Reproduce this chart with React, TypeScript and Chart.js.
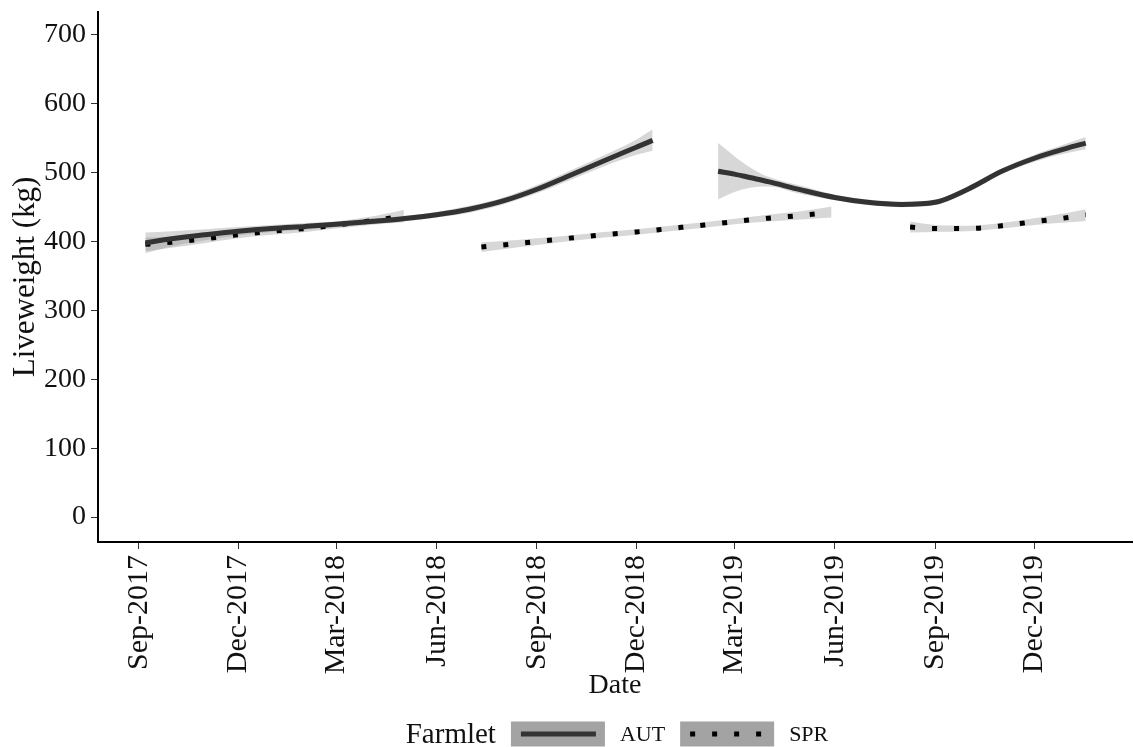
import React, { useEffect, useRef } from 'react';
import { Chart, registerables } from 'chart.js';

Chart.register(...registerables);

const FONT = '"Liberation Serif", "Times New Roman", serif';
const TEXT = '#111111';

// Tick positions (first of month) and labels
const TICK_DATES = ['2017-09-01', '2017-12-01', '2018-03-01', '2018-06-01', '2018-09-01', '2018-12-01', '2019-03-01', '2019-06-01', '2019-09-01', '2019-12-01'];
const TICK_LABELS = ['Sep-2017', 'Dec-2017', 'Mar-2018', 'Jun-2018', 'Sep-2018', 'Dec-2018', 'Mar-2019', 'Jun-2019', 'Sep-2019', 'Dec-2019'];
const Y_TICKS = [0, 100, 200, 300, 400, 500, 600, 700];

// AUT farmlet, first period
const AUT1_DATES = ['2017-09-07', '2017-10-01', '2017-11-01', '2017-12-01', '2018-01-01', '2018-02-01', '2018-03-01', '2018-04-01', '2018-05-01', '2018-06-01', '2018-07-01', '2018-08-01', '2018-09-01', '2018-10-01', '2018-11-01', '2018-12-01', '2018-12-16'];
const AUT1_FIT = [398, 404, 410, 415, 419, 422, 425, 429, 433, 439, 447, 459, 476, 496, 517, 537, 547];
const AUT1_LOW = [383, 393, 402, 409, 414, 417, 421, 425, 429, 435, 442, 454, 470, 489, 509, 526, 532];
const AUT1_HIGH = [413, 415, 418, 421, 424, 427, 429, 433, 437, 443, 452, 464, 482, 503, 525, 548, 563];

// AUT farmlet, second period
const AUT2_DATES = ['2019-02-14', '2019-03-01', '2019-03-15', '2019-04-01', '2019-05-01', '2019-06-01', '2019-07-01', '2019-08-01', '2019-09-01', '2019-10-01', '2019-11-01', '2019-12-01', '2020-01-01', '2020-01-17'];
const AUT2_FIT = [502, 498, 493, 487, 475, 464, 457, 454, 457, 476, 502, 521, 536, 543];
const AUT2_LOW = [461, 472, 478, 480, 469, 460, 453, 450, 453, 472, 498, 516, 529, 534];
const AUT2_HIGH = [543, 524, 508, 494, 481, 468, 461, 458, 461, 480, 506, 526, 543, 552];

// SPR farmlet, three periods
const SPR1_DATES = ['2017-09-07', '2017-10-01', '2017-11-01', '2017-12-01', '2018-01-01', '2018-02-01', '2018-03-01', '2018-04-01', '2018-05-02'];
const SPR1_FIT = [396, 399, 404, 410, 415, 419, 424, 430, 437];
const SPR1_LOW = [386, 391, 398, 405, 410, 414, 419, 424, 428];
const SPR1_HIGH = [406, 407, 410, 415, 420, 424, 429, 436, 446];

const SPR2_DATES = ['2018-07-12', '2018-08-01', '2018-09-01', '2018-10-01', '2018-11-01', '2018-12-01', '2019-01-01', '2019-02-01', '2019-03-01', '2019-04-01', '2019-05-01', '2019-05-29'];
const SPR2_FIT = [392, 395, 400, 405, 410, 414, 419, 424, 429, 434, 438, 443];
const SPR2_LOW = [385, 389, 395, 401, 406, 410, 415, 420, 425, 429, 432, 435];
const SPR2_HIGH = [399, 401, 405, 409, 414, 418, 423, 428, 433, 439, 444, 451];

const SPR3_DATES = ['2019-08-09', '2019-09-01', '2019-10-01', '2019-11-01', '2019-12-01', '2020-01-01', '2020-01-17'];
const SPR3_FIT = [421, 419, 419, 423, 429, 435, 439];
const SPR3_LOW = [413, 414, 415, 419, 424, 428, 430];
const SPR3_HIGH = [429, 424, 423, 427, 434, 442, 447];

const DAY0 = Date.UTC(2017, 8, 1);
const toDay = (s: string) => {
  const [y, m, d] = s.split('-').map(Number);
  return (Date.UTC(y, m - 1, d) - DAY0) / 86400000;
};
const pts = (dates: string[], vals: number[]) => dates.map((d, i) => ({ x: toDay(d), y: vals[i] }));

const AUT_COLOR = '#333333';
const SPR_COLOR = '#000000';
const BAND_COLOR = 'rgba(150,150,150,0.38)';
const DASH = [5, 17];

const legendPlugin = {
  id: 'farmletLegend',
  afterDraw(chart: any) {
    const ctx = chart.ctx as CanvasRenderingContext2D;
    const area = chart.chartArea;
    const cy = chart.height - 13;
    ctx.save();
    ctx.textBaseline = 'middle';
    ctx.fillStyle = TEXT;
    ctx.font = `29px ${FONT}`;
    const wTitle = ctx.measureText('Farmlet').width;
    ctx.font = `22px ${FONT}`;
    const wA = ctx.measureText('AUT').width;
    const wS = ctx.measureText('SPR').width;
    const boxW = 94, boxH = 25, gap = 15;
    const total = wTitle + gap + boxW + gap + wA + gap + boxW + gap + wS;
    let x = (area.left + area.right) / 2 - total / 2 + 2;
    ctx.font = `29px ${FONT}`;
    ctx.textAlign = 'left';
    ctx.fillText('Farmlet', x, cy + 1);
    x += wTitle + gap;
    const drawKey = (bx: number, dashed: boolean, color: string) => {
      ctx.fillStyle = '#a3a3a3';
      ctx.fillRect(bx, cy - boxH / 2, boxW, boxH);
      ctx.beginPath();
      ctx.strokeStyle = color;
      ctx.lineWidth = 5;
      ctx.lineCap = 'butt';
      ctx.setLineDash(dashed ? DASH : []);
      ctx.moveTo(bx + 10, cy);
      ctx.lineTo(bx + boxW - 9, cy);
      ctx.stroke();
      ctx.setLineDash([]);
    };
    drawKey(x, false, AUT_COLOR);
    x += boxW + gap;
    ctx.fillStyle = TEXT;
    ctx.font = `22px ${FONT}`;
    ctx.fillText('AUT', x, cy + 1);
    x += wA + gap;
    drawKey(x, true, SPR_COLOR);
    x += boxW + gap;
    ctx.fillStyle = TEXT;
    ctx.font = `22px ${FONT}`;
    ctx.fillText('SPR', x, cy + 1);
    ctx.restore();
  },
};

export default function App() {
  const ref = useRef<HTMLCanvasElement>(null);
  useEffect(() => {
    document.body.style.margin = '0';
    const datasets: any[] = [];
    const addLine = (dates: string[], vals: number[], spr: boolean) => {
      datasets.push({
        data: pts(dates, vals),
        borderColor: spr ? SPR_COLOR : AUT_COLOR,
        borderWidth: 5,
        borderDash: spr ? DASH : [],
        borderCapStyle: 'butt',
        cubicInterpolationMode: 'monotone',
        pointRadius: 0,
        fill: false,
        order: 0,
      });
    };
    const addBand = (dates: string[], low: number[], high: number[]) => {
      const lowIndex = datasets.length;
      datasets.push({
        data: pts(dates, low),
        borderWidth: 0,
        borderColor: 'rgba(0,0,0,0)',
        pointRadius: 0,
        cubicInterpolationMode: 'monotone',
        fill: false,
        order: 1,
      });
      datasets.push({
        data: pts(dates, high),
        borderWidth: 0,
        borderColor: 'rgba(0,0,0,0)',
        backgroundColor: BAND_COLOR,
        pointRadius: 0,
        cubicInterpolationMode: 'monotone',
        fill: lowIndex,
        order: 1,
      });
    };
    addLine(AUT1_DATES, AUT1_FIT, false);
    addLine(AUT2_DATES, AUT2_FIT, false);
    addLine(SPR1_DATES, SPR1_FIT, true);
    addLine(SPR2_DATES, SPR2_FIT, true);
    addLine(SPR3_DATES, SPR3_FIT, true);
    addBand(AUT1_DATES, AUT1_LOW, AUT1_HIGH);
    addBand(AUT2_DATES, AUT2_LOW, AUT2_HIGH);
    addBand(SPR1_DATES, SPR1_LOW, SPR1_HIGH);
    addBand(SPR2_DATES, SPR2_LOW, SPR2_HIGH);
    addBand(SPR3_DATES, SPR3_LOW, SPR3_HIGH);

    const chart = new Chart(ref.current as HTMLCanvasElement, {
      type: 'line',
      data: { datasets },
      plugins: [legendPlugin],
      options: {
        responsive: false,
        animation: false,
        layout: { padding: { top: 12, left: 0, right: 2, bottom: 50 } },
        plugins: { legend: { display: false }, tooltip: { enabled: false } },
        scales: {
          x: {
            type: 'linear',
            min: -37.4,
            max: 910.4,
            afterBuildTicks: (s: any) => {
              s.ticks = TICK_DATES.map((d) => ({ value: toDay(d) }));
            },
            afterFit: (s: any) => {
              s.height = 155;
            },
            ticks: {
              autoSkip: false,
              minRotation: 90,
              maxRotation: 90,
              padding: 6,
              color: TEXT,
              font: { family: FONT, size: 30 },
              callback: (_v: any, i: number) => TICK_LABELS[i],
            },
            grid: { display: true, drawOnChartArea: false, drawTicks: true, tickLength: 7, color: '#333333', lineWidth: 1 },
            border: { display: true, color: '#000000', width: 2 },
            title: { display: true, text: 'Date', color: TEXT, font: { family: FONT, size: 28, lineHeight: 0.8 }, padding: { top: 0, bottom: 0 } },
          },
          y: {
            type: 'linear',
            min: -36.3,
            max: 733.4,
            afterBuildTicks: (s: any) => {
              s.ticks = Y_TICKS.map((v) => ({ value: v }));
            },
            afterFit: (s: any) => {
              s.width = 98;
            },
            ticks: {
              padding: 5,
              color: TEXT,
              font: { family: FONT, size: 28, lineHeight: 0.5 },
            },
            grid: { display: true, drawOnChartArea: false, drawTicks: true, tickLength: 7, color: '#333333', lineWidth: 1 },
            border: { display: true, color: '#000000', width: 2 },
            title: { display: true, text: 'Liveweight (kg)', color: TEXT, font: { family: FONT, size: 31, lineHeight: 1.2 }, padding: { top: 7, bottom: 0 } },
          },
        },
      } as any,
    });
    return () => chart.destroy();
  }, []);
  return <canvas ref={ref} width={1134} height={747} style={{ display: 'block' }} />;
}
